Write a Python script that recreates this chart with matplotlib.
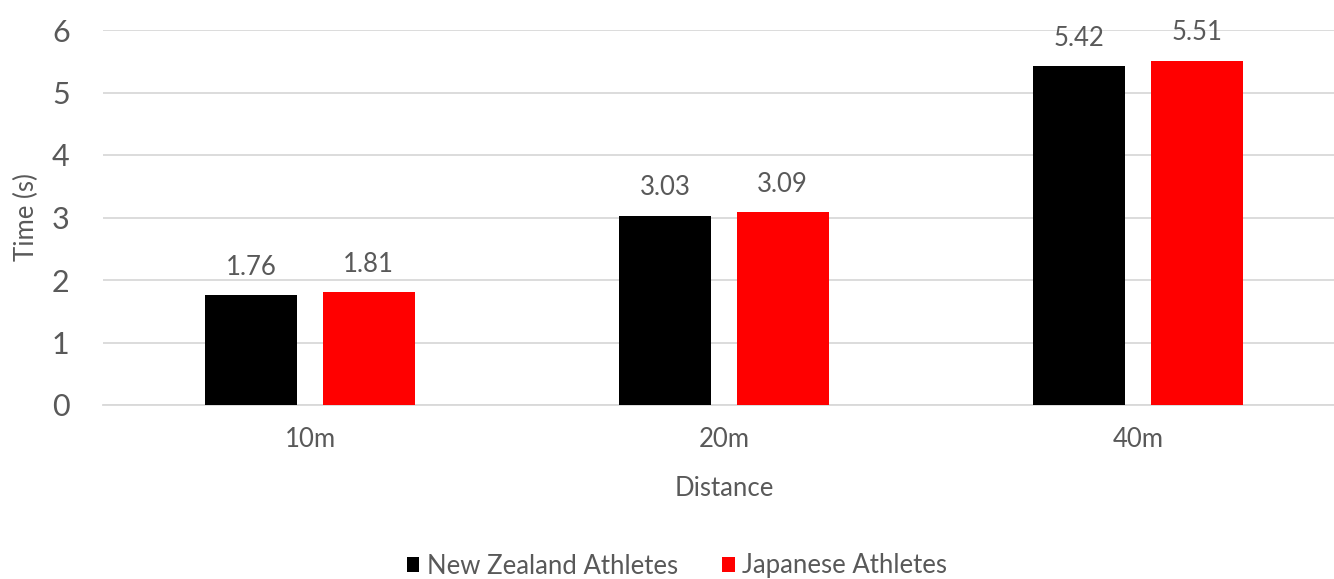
import matplotlib.pyplot as plt
import numpy as np

# chart data
distances = ["10m", "20m", "40m"]
nz_times = [1.76, 3.03, 5.42]
jp_times = [1.81, 3.09, 5.51]
series_names = ["New Zealand Athletes", "Japanese Athletes"]

grey = "#595959"
plt.rcParams['font.family'] = ['Lato', 'DejaVu Sans']

fig = plt.figure(figsize=(13.34, 5.79), dpi=100)
ax = fig.add_axes([103/1334, 174/579, 1242/1334, 375/579])

x = np.arange(len(distances))
w = 0.222
off = 0.142
b1 = ax.bar(x - off, nz_times, w, color="black", label=series_names[0], zorder=3)
b2 = ax.bar(x + off, jp_times, w, color="#ff0000", label=series_names[1], zorder=3)

for bars in (b1, b2):
    for r in bars:
        ax.annotate(f"{r.get_height():.2f}", (r.get_x() + r.get_width()/2, r.get_height()),
                    xytext=(0, 11), textcoords="offset points", ha="center", va="bottom",
                    fontsize=18.5, color=grey)

ax.set_xlim(-0.5, 2.5)
ax.set_ylim(0, 6)
ax.set_yticks(range(7))
ax.set_xticks(x)
ax.set_xticklabels(distances)
ax.yaxis.grid(True, color="#d9d9d9", linewidth=1.3, zorder=0)
for s in ["top", "right", "left"]:
    ax.spines[s].set_visible(False)
ax.spines["bottom"].set_color("#d9d9d9")
ax.spines["bottom"].set_linewidth(1.3)
ax.tick_params(axis="y", length=0, labelsize=22, labelcolor=grey, pad=24)
ax.tick_params(axis="x", length=0, labelsize=18.5, labelcolor=grey, pad=16)

ax.set_xlabel("Distance", fontsize=18.5, color=grey, labelpad=17)
ax.set_ylabel("Time (s)", fontsize=18.5, color=grey, labelpad=9)

fig.legend(handles=[b1, b2], loc="center", bbox_to_anchor=(677/1334, 1 - 566/579),
           ncol=2, frameon=False, fontsize=18.5, labelcolor=grey,
           handlelength=0.5, handleheight=0.5, handletextpad=0.3, columnspacing=1.7)

fig.savefig("out.png", dpi=100)
